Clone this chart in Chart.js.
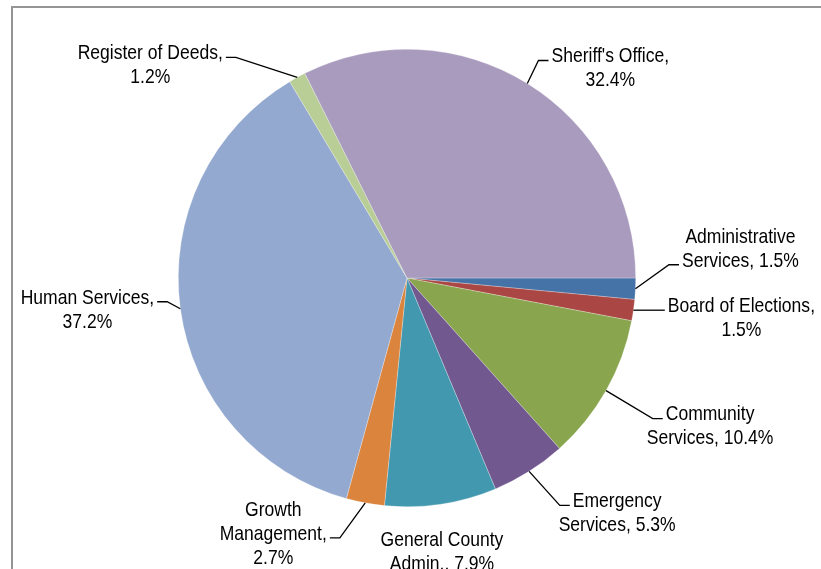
<!DOCTYPE html>
<html>
<head>
<meta charset="utf-8">
<script src="https://cdn.jsdelivr.net/npm/chart.js@4/dist/chart.umd.min.js"></script>
<style>
  html, body { margin: 0; padding: 0; background: #fff; }
  #wrap { width: 821px; height: 569px; position: relative; }
</style>
</head>
<body>
<div id="wrap"><canvas id="pie"></canvas></div>
<script>
// County budget share by department (percent)
const departments = [
    'Administrative Services', 'Board of Elections', 'Community Services',
    'Emergency Services', 'General County Admin.', 'Growth Management',
    'Human Services', 'Register of Deeds', "Sheriff's Office"
];
const shares = [1.5, 1.5, 10.4, 5.3, 7.9, 2.7, 37.2, 1.2, 32.4];
const sliceColors = [
    '#4572A7', '#AA4643', '#89A54E', '#71588F', '#4198AF',
    '#DB843D', '#93A9CF', '#B9CD96', '#A99BBD'
];

// label placement: text offset from the slice's outer midpoint, wrap width,
// and which text line the leader line meets (-1 = no leader)
const labelLayout = [
    {dx: 105, dy: -52, wrap: 130, hook: 1},
    {dx: 108, dy: -4,  wrap: 155, hook: 0},
    {dx: 104, dy: 24,  wrap: 140, hook: 0},
    {dx: 88,  dy: 30,  wrap: 130, hook: 0},
    {dx: 1,   dy: 36,  wrap: 130, hook: -1},
    {dx: -92, dy: 7,   wrap: 120, hook: 1},
    {dx: -93, dy: -11, wrap: 155, hook: 0},
    {dx: -147, dy: -24, wrap: 160, hook: 0},
    {dx: 83,  dy: -27, wrap: 130, hook: 0},
];

// no narrow face installed, so squeeze the regular one horizontally
const FONT = '21px "Liberation Sans", Arial, sans-serif';
const SQUEEZE = 0.835;
const LINE_H = 24;

function textWidth(ctx, s) {
    return ctx.measureText(s).width * SQUEEZE;
}

function wrapText(ctx, text, maxWidth) {
    const words = text.split(' ');
    const lines = [];
    let cur = '';
    for (const w of words) {
        const test = cur ? cur + ' ' + w : w;
        if (cur && textWidth(ctx, test) > maxWidth) {
            lines.push(cur);
            cur = w;
        } else {
            cur = test;
        }
    }
    if (cur) lines.push(cur);
    return lines;
}

const framePlugin = {
    id: 'frame',
    beforeDraw(chart) {
        const ctx = chart.ctx;
        ctx.save();
        ctx.fillStyle = '#959595';
        ctx.fillRect(11, 6, chart.width - 11, 2);
        ctx.fillRect(11, 6, 2, chart.height - 6);
        ctx.restore();
    }
};

const leaderLabels = {
    id: 'leaderLabels',
    afterDatasetsDraw(chart) {
        const ctx = chart.ctx;
        const meta = chart.getDatasetMeta(0);
        ctx.save();
        ctx.font = FONT;
        ctx.fillStyle = '#000';
        ctx.strokeStyle = '#000';
        ctx.lineWidth = 1.3;
        ctx.textAlign = 'center';
        ctx.textBaseline = 'middle';
        meta.data.forEach((arc, i) => {
            const mid = (arc.startAngle + arc.endAngle) / 2;
            const ax = arc.x + Math.cos(mid) * arc.outerRadius;
            const ay = arc.y + Math.sin(mid) * arc.outerRadius;
            const lay = labelLayout[i];
            const cx = ax + lay.dx;
            const cy = ay + lay.dy;
            const lines = wrapText(ctx, `${departments[i]}, ${shares[i]}%`, lay.wrap);
            lines.forEach((ln, k) => {
                ctx.save();
                ctx.translate(cx, cy + k * LINE_H);
                ctx.scale(SQUEEZE, 1);
                ctx.fillText(ln, 0, 0);
                ctx.restore();
            });

            if (lay.hook >= 0) {
                const w = textWidth(ctx, lines[lay.hook]);
                const ly = cy + lay.hook * LINE_H + 4;
                const toLeft = ax < cx;
                const endX = toLeft ? cx - w / 2 - 3 : cx + w / 2 + 3;
                const elbowX = toLeft ? endX - 10 : endX + 10;
                ctx.beginPath();
                ctx.moveTo(ax, ay);
                ctx.lineTo(elbowX, ly);
                ctx.lineTo(endX, ly);
                ctx.stroke();
            }
        });
        ctx.restore();
    }
};

new Chart(document.getElementById('pie'), {
    type: 'pie',
    data: {
        labels: departments,
        datasets: [{
            data: shares,
            backgroundColor: sliceColors,
            borderColor: 'rgba(255,255,255,0.45)',
            borderWidth: 0.6,
            hoverOffset: 0
        }]
    },
    options: {
        responsive: true,
        maintainAspectRatio: false,
        animation: false,
        rotation: 90,
        layout: { padding: { left: 178, right: 185, top: 49, bottom: 62 } },
        plugins: {
            legend: { display: false },
            tooltip: { enabled: false }
        }
    },
    plugins: [framePlugin, leaderLabels]
});
</script>
</body>
</html>
